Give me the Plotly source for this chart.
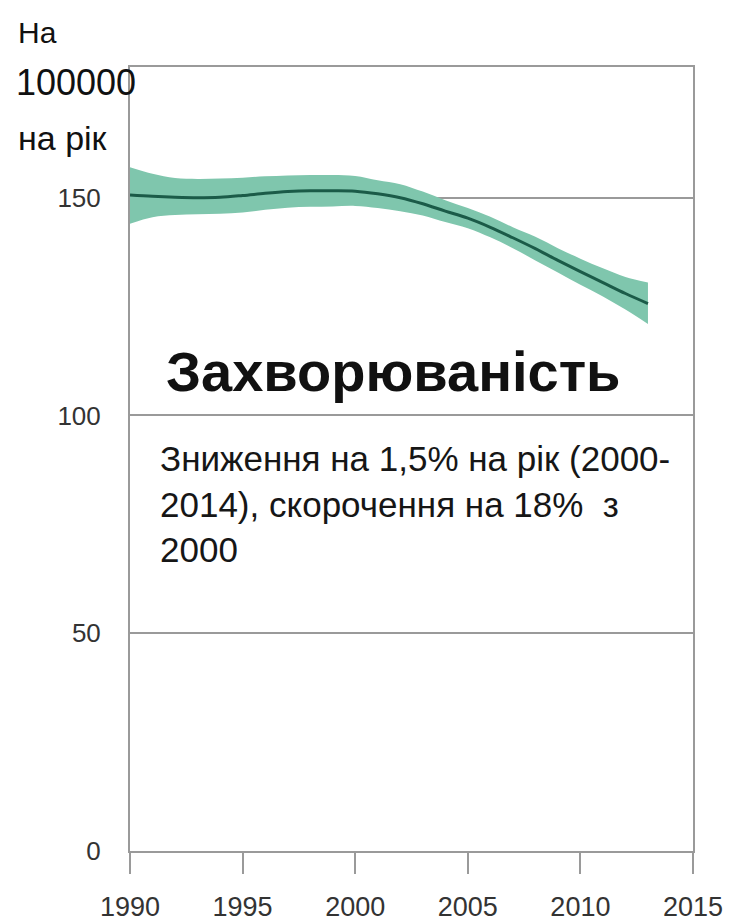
import plotly.graph_objects as go

# Data (incidence per 100000 per year)
years = [1990, 1991, 1992, 1993, 1994, 1995, 1996, 1997, 1998, 1999, 2000, 2001,
         2002, 2003, 2004, 2005, 2006, 2007, 2008, 2009, 2010, 2011, 2012, 2013]
incidence = [150.6, 150.3, 150.1, 150.0, 150.1, 150.5, 151.0, 151.4, 151.6, 151.6, 151.5, 150.9,
             150.0, 148.6, 146.9, 145.3, 143.2, 140.8, 138.3, 135.6, 133.0, 130.5, 128.0, 125.7]
lower = [144.0, 145.5, 146.0, 146.2, 146.3, 146.6, 147.2, 147.7, 147.9, 148.0, 148.1, 147.6,
         146.9, 145.9, 144.4, 143.0, 140.9, 138.4, 135.6, 132.8, 130.0, 127.3, 124.3, 121.0]
upper = [157.0, 155.5, 154.5, 154.3, 154.4, 154.6, 154.9, 155.1, 155.2, 155.2, 155.0, 154.0,
         153.1, 151.4, 149.4, 147.6, 145.6, 143.2, 141.0, 138.4, 136.0, 133.8, 131.8, 130.5]

x_ticks = [1990, 1995, 2000, 2005, 2010, 2015]
y_ticks = [0, 50, 100, 150]

unit_label = ["На", "100000", "на рік"]
heading = "Захворюваність"
note = "Зниження на 1,5% на рік (2000-<br>2014), скорочення на 18%  з<br>2000"

BAND = "#7fc6ad"
LINE = "#1b5b48"
GRID = "#9a9a9a"
SANS = "Liberation Sans, Arial, sans-serif"

fig = go.Figure()
fig.add_trace(go.Scatter(x=years, y=lower, mode="lines", line=dict(width=0, shape="spline", color=BAND),
                         showlegend=False, hoverinfo="skip"))
fig.add_trace(go.Scatter(x=years, y=upper, mode="lines", line=dict(width=0, shape="spline", color=BAND),
                         fill="tonexty", fillcolor=BAND, showlegend=False, hoverinfo="skip"))
fig.add_trace(go.Scatter(x=years, y=incidence, mode="lines", line=dict(width=3, shape="spline", color=LINE),
                         showlegend=False))

W, H = 730, 921
ml, mr, mt, mb = 129.5, 37, 67, 69.5
pw, ph = W - ml - mr, H - mt - mb


def px(xp):
    return (xp - ml) / pw


def py(yp):
    return (H - mb - yp) / ph


fig.update_layout(
    width=W, height=H,
    margin=dict(l=ml, r=mr, t=mt, b=mb, pad=0, autoexpand=False),
    paper_bgcolor="white", plot_bgcolor="white",
    xaxis=dict(range=[1990, 2015], tickvals=x_ticks, ticks="outside", ticklen=21, tickwidth=2,
               tickcolor=GRID, showline=True, linecolor=GRID, linewidth=2, mirror=True,
               showgrid=False, zeroline=False, automargin=False, ticklabelstandoff=10,
               tickfont=dict(family=SANS, size=27, color="#333333")),
    yaxis=dict(range=[0, 180], tickvals=y_ticks, ticks="", showline=True, linecolor=GRID,
               linewidth=2, mirror=True, showgrid=True, gridcolor=GRID, gridwidth=2,
               zeroline=False, ticklabelstandoff=22, automargin=False,
               tickfont=dict(family=SANS, size=26, color="#333333")),
)

# Unit label (top-left)
fig.add_annotation(text=unit_label[0], xref="paper", yref="paper", x=px(15), y=py(32),
                   xanchor="left", yanchor="middle", showarrow=False,
                   font=dict(family=SANS, size=30, color="#111111"))
fig.add_annotation(text=unit_label[1], xref="paper", yref="paper", x=px(13), y=py(83),
                   xanchor="left", yanchor="middle", showarrow=False,
                   font=dict(family=SANS, size=36, color="#111111"))
fig.add_annotation(text=unit_label[2], xref="paper", yref="paper", x=px(15), y=py(138),
                   xanchor="left", yanchor="middle", showarrow=False,
                   font=dict(family=SANS, size=34, color="#111111"))

# Heading
fig.add_annotation(text="<b>" + heading + "</b>", xref="paper", yref="paper", x=px(164), y=py(372),
                   xanchor="left", yanchor="middle", showarrow=False,
                   font=dict(family=SANS, size=56, color="#111111"))

# Note
fig.add_annotation(text=note, xref="paper", yref="paper", x=px(158), y=py(504),
                   xanchor="left", yanchor="middle", align="left", showarrow=False,
                   font=dict(family=SANS, size=35, color="#161616"))

fig.write_html("out.html", config={"displayModeBar": False},
               post_script="document.body.style.margin='0px';")
